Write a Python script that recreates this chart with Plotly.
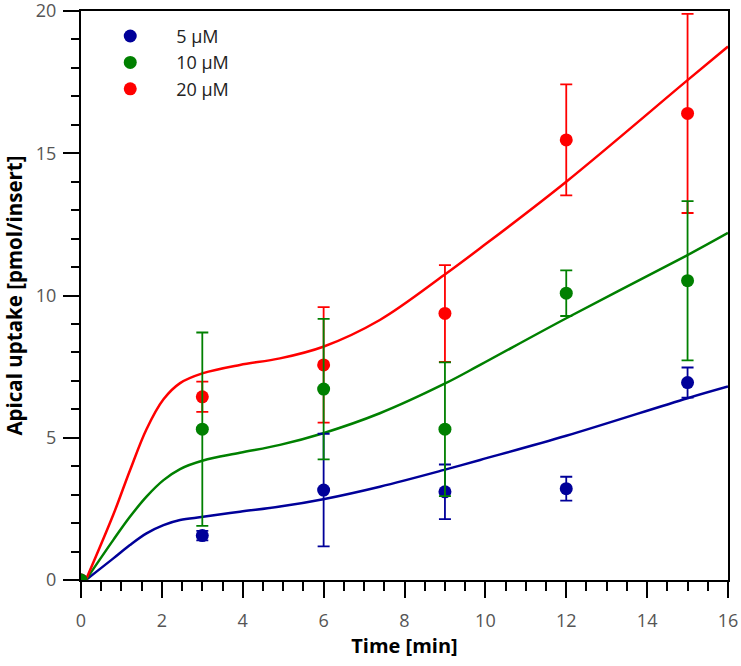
import plotly.graph_objects as go

# measured data
time_pts = [0, 3, 6, 9, 12, 15]
uptake_5 = [0, 1.56, 3.16, 3.10, 3.21, 6.94]
err_5 = [0, 0.17, 1.98, 0.96, 0.42, 0.53]
uptake_10 = [0, 5.30, 6.71, 5.30, 10.08, 10.52]
err_10 = [0, 3.40, 2.47, 2.35, 0.80, 2.80]
uptake_20 = [0, 6.44, 7.56, 9.37, 15.47, 16.40]
err_20 = [0, 0.53, 2.03, 1.70, 1.95, 3.50]

# fitted curves
fit_x = [0.12, 0.8, 1.21, 1.62, 2.04, 2.45, 3.02, 3.93, 4.92, 5.99, 7.39, 8.98, 9.87, 12, 15, 16]
fit_5 = [0, 0.76, 1.23, 1.64, 1.93, 2.11, 2.22, 2.40, 2.58, 2.84, 3.28, 3.87, 4.22, 5.07, 6.39, 6.80]
fit_10 = [0, 1.41, 2.22, 2.93, 3.51, 3.90, 4.20, 4.47, 4.75, 5.16, 5.86, 6.89, 7.56, 9.20, 11.42, 12.20]
fit_20 = [0, 2.30, 3.85, 5.30, 6.35, 6.92, 7.27, 7.56, 7.79, 8.20, 9.14, 10.72, 11.66, 14.00, 17.57, 18.75]

labels = ["5 µM", "10 µM", "20 µM"]
colors = ["#000099", "#008000", "#ff0000"]

fig = go.Figure()

for fy, c in zip([fit_5, fit_10, fit_20], colors):
    fig.add_trace(go.Scatter(x=fit_x, y=fy, mode="lines", line=dict(color=c, width=2.5, shape="spline", smoothing=1.0),
                             showlegend=False, hoverinfo="skip"))

series = [(uptake_5, err_5, 0), (uptake_20, err_20, 2), (uptake_10, err_10, 1)]
for ys, es, i in series:
    fig.add_trace(go.Scatter(
        x=time_pts, y=ys, mode="markers", name=labels[i], legendrank=i + 1,
        marker=dict(color=colors[i], size=13),
        error_y=dict(type="data", array=es, visible=True, color=colors[i], thickness=1.8, width=6),
    ))

fig.update_layout(
    width=741, height=666,
    margin=dict(l=81, r=13, t=11, b=86),
    paper_bgcolor="white", plot_bgcolor="white",
    font=dict(family="Open Sans", size=18, color="#555555"),
    showlegend=True,
    legend=dict(x=0.005, y=0.988, xanchor="left", yanchor="top", bgcolor="rgba(0,0,0,0)",
                font=dict(family="Open Sans", size=18, color="#222222"), itemwidth=82),
)
fig.update_xaxes(range=[0, 16], tickmode="array", tickvals=[0, 2, 4, 6, 8, 10, 12, 14, 16],
                 ticks="outside", ticklen=16, tickwidth=2, tickcolor="black", ticklabelstandoff=7,
                 ticklabeloverflow="allow",
                 showline=True, linewidth=2, linecolor="black", mirror=True,
                 showgrid=False, zeroline=False, automargin=False,
                 minor=dict(dtick=0.5, ticks="outside", ticklen=9, tickwidth=2, tickcolor="black", showgrid=False),
                 title=dict(text="Time [min]", font=dict(family="Open Sans", size=20, color="black", weight="bold"), standoff=8))
fig.update_yaxes(range=[0, 20], tickmode="array", tickvals=[0, 5, 10, 15, 20],
                 ticks="outside", ticklen=16, tickwidth=2, tickcolor="black", ticklabelstandoff=3,
                 ticklabeloverflow="allow",
                 showline=True, linewidth=2, linecolor="black", mirror=True,
                 showgrid=False, zeroline=False, automargin=False,
                 minor=dict(dtick=1, ticks="outside", ticklen=8, tickwidth=2, tickcolor="black", showgrid=False),
                 title=dict(text="Apical uptake [pmol/insert]", font=dict(family="Open Sans", size=20.5, color="black", weight="bold"), standoff=11))

fig.write_html("out.html", config={"displayModeBar": False},
               post_script="document.body.style.margin='0';")
